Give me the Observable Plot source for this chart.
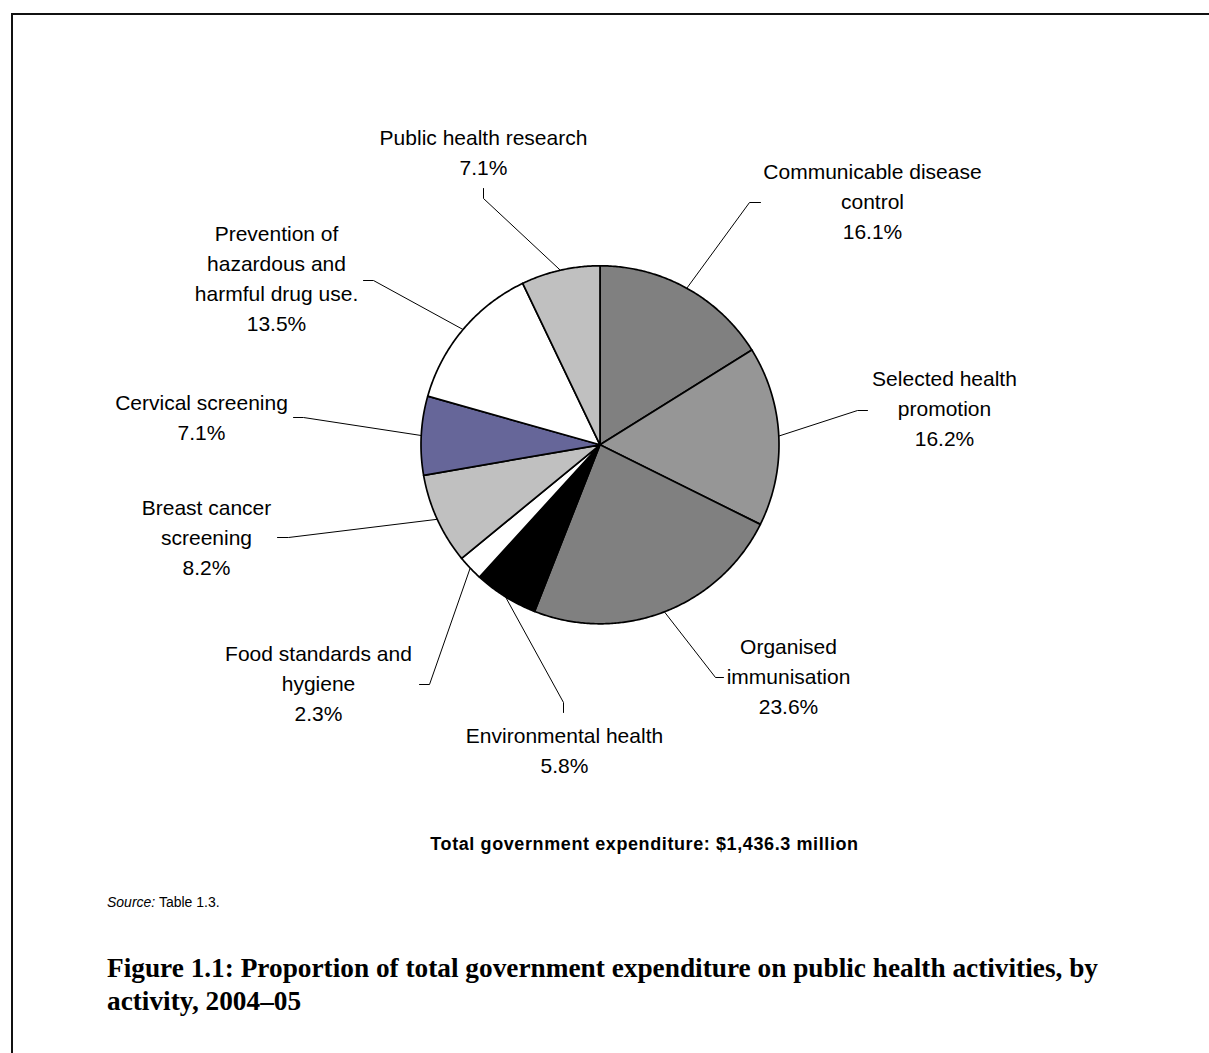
<!DOCTYPE html>
<html>
<head>
<meta charset="utf-8">
<script src="https://cdn.jsdelivr.net/npm/d3@7"></script>
<script src="https://cdn.jsdelivr.net/npm/@observablehq/plot@0.6"></script>
<style>
  body { margin: 0; background: #fff; }
  #wrap { position: relative; width: 1209px; height: 1053px; overflow: hidden; font-family: "Liberation Sans", Arial, sans-serif; color: #000; }
  #frame { position: absolute; left: 11px; top: 13px; right: -5px; bottom: -5px; border-top: 2px solid #111; border-left: 2px solid #111; }
  #chart { position: absolute; left: 0; top: 0; }
  #chart svg > g[aria-label="text"]:last-of-type text { letter-spacing: 0.6px; }
  #source { position: absolute; left: 107px; top: 894px; font-size: 14px; line-height: 16px; }
  #title { position: absolute; left: 107px; top: 952px; font-family: "Liberation Serif", "Times New Roman", serif; font-weight: bold; font-size: 27.3px; line-height: 33px; white-space: nowrap; }
</style>
</head>
<body>
<div id="wrap">
  <div id="frame"></div>
  <div id="chart"></div>
  <div id="source"><i>Source:</i> Table 1.3.</div>
  <div id="title">Figure 1.1: Proportion of total government expenditure on public health activities, by<br>activity, 2004–05</div>
</div>
<script>
// ---- data ----
const categories = [
  "Communicable disease control",
  "Selected health promotion",
  "Organised immunisation",
  "Environmental health",
  "Food standards and hygiene",
  "Breast cancer screening",
  "Cervical screening",
  "Prevention of hazardous and harmful drug use.",
  "Public health research"
];
const shares = [16.1, 16.2, 23.6, 5.8, 2.3, 8.2, 7.1, 13.5, 7.1];
const labelText = [
  "Communicable disease\ncontrol\n16.1%",
  "Selected health\npromotion\n16.2%",
  "Organised\nimmunisation\n23.6%",
  "Environmental health\n5.8%",
  "Food standards and\nhygiene\n2.3%",
  "Breast cancer\nscreening\n8.2%",
  "Cervical screening\n7.1%",
  "Prevention of\nhazardous and\nharmful drug use.\n13.5%",
  "Public health research\n7.1%"
];
const sliceColors = ["#808080", "#969696", "#808080", "#000000", "#ffffff", "#c0c0c0", "#666699", "#ffffff", "#c0c0c0"];
const totalLabel = "Total government expenditure: $1,436.3 million";

// ---- layout (pixels) ----
const W = 1209, H = 880;
const pieCenter = {x: 599.5, y: 444.3};
const pieRadius = 179;
// label: centre x, last baseline y, leader anchor near text, elbow point
const labelLayout = [
  {x: 872, y: 238, anchor: [760, 202], elbow: [749, 202]},
  {x: 944, y: 445, anchor: [867, 410], elbow: [857, 410]},
  {x: 788, y: 713, anchor: [723, 677], elbow: [715, 677]},
  {x: 564, y: 772, anchor: [563, 712], elbow: [563, 702]},
  {x: 318, y: 720, anchor: [419, 684], elbow: [429, 684]},
  {x: 206, y: 574, anchor: [277, 537], elbow: [288, 537]},
  {x: 201, y: 439, anchor: [293, 417], elbow: [303, 417]},
  {x: 276, y: 330, anchor: [363, 280], elbow: [373, 280]},
  {x: 483, y: 174, anchor: [483, 188], elbow: [483, 198]}
];
const totalPos = {x: 644, y: 849};

// ---- geometry from the data ----
const arcs = d3.pie().sort(null).value(d => d)(shares);
const polar = (a, r) => ({x: pieCenter.x + r * Math.sin(a), y: pieCenter.y - r * Math.cos(a)});

const slicePts = [];
arcs.forEach((a, i) => {
  slicePts.push({i, ...pieCenter, color: sliceColors[i]});
  const n = Math.max(2, Math.ceil((a.endAngle - a.startAngle) / (Math.PI / 360)));
  for (let k = 0; k <= n; k++) {
    const t = a.startAngle + (a.endAngle - a.startAngle) * k / n;
    slicePts.push({i, ...polar(t, pieRadius), color: sliceColors[i]});
  }
});

const leaderPts = [];
arcs.forEach((a, i) => {
  const mid = (a.startAngle + a.endAngle) / 2;
  const L = labelLayout[i];
  leaderPts.push({i, ...polar(mid, pieRadius)});
  leaderPts.push({i, x: L.elbow[0], y: L.elbow[1]});
  leaderPts.push({i, x: L.anchor[0], y: L.anchor[1]});
});

const labels = categories.map((c, i) => ({name: c, text: labelText[i], x: labelLayout[i].x, y: labelLayout[i].y}));

const chart = Plot.plot({
  width: W,
  height: H,
  margin: 0,
  x: {domain: [0, W], range: [0, W], axis: null},
  y: {domain: [0, H], range: [0, H], axis: null},
  color: {type: "identity"},
  style: {background: "transparent", overflow: "visible"},
  marks: [
    Plot.line(leaderPts, {x: "x", y: "y", z: "i", stroke: "#000", strokeWidth: 1, curve: "linear"}),
    Plot.line(slicePts, {x: "x", y: "y", z: "i", fill: "color", stroke: "#000", strokeWidth: 1.7, strokeLinejoin: "round", curve: "linear-closed"}),
    Plot.text(labels, {x: "x", y: "y", text: "text", lineAnchor: "bottom", lineHeight: 1.42, fontSize: 21, fontFamily: "'Liberation Sans', Arial, sans-serif", fill: "#000"}),
    Plot.text([totalLabel], {x: totalPos.x, y: totalPos.y, text: d => d, lineAnchor: "bottom", fontSize: 18, fontWeight: "bold", fontFamily: "'Liberation Sans', Arial, sans-serif", fill: "#000"})
  ]
});
document.getElementById("chart").appendChild(chart);
</script>
</body>
</html>
